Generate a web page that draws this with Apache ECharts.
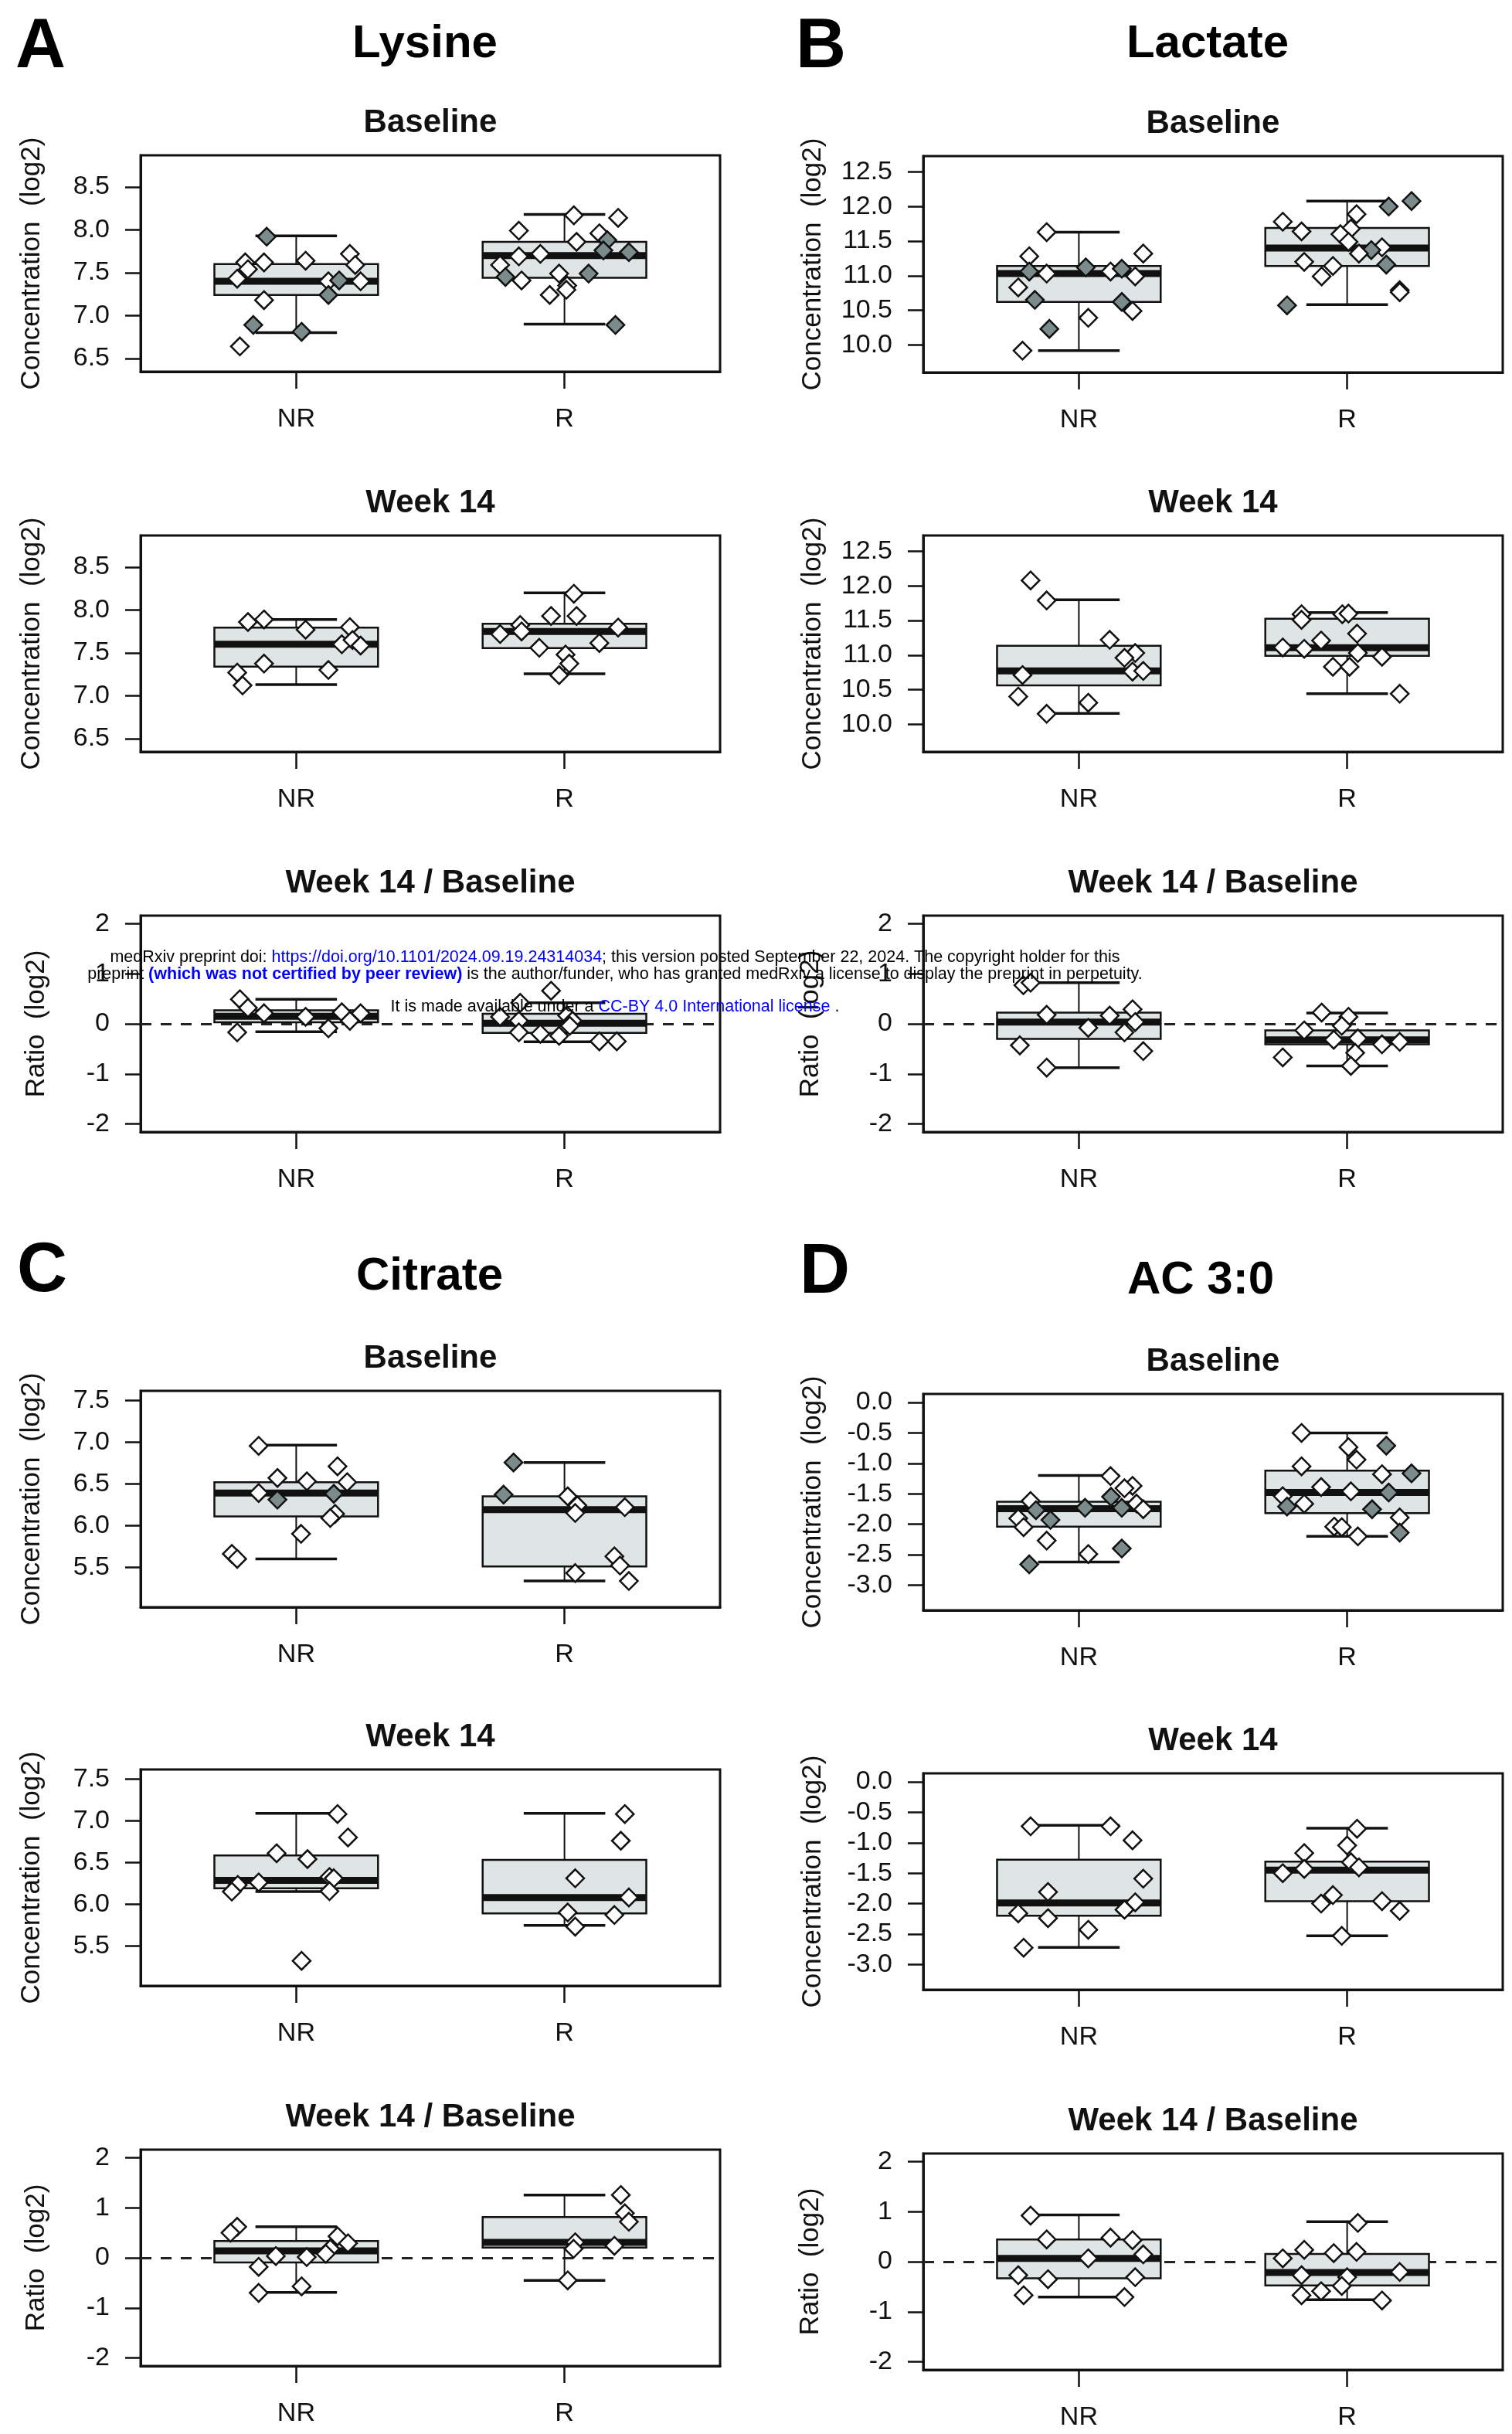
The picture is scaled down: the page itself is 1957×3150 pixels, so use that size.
<!DOCTYPE html>
<html>
<head>
<meta charset="utf-8">
<script src="https://cdn.jsdelivr.net/npm/echarts@6.0.0/dist/echarts.min.js"></script>
<style>
  html, body { margin: 0; padding: 0; background: #fff; }
  #main { width: 1957px; height: 3150px; }
</style>
</head>
<body>
<div id="main"></div>
<script>
var groups = ['NR', 'R'];

// box stats: [lower whisker, Q1, median, Q3, upper whisker]
// points: [value, jitter, dark fill]

// Lysine
var lysBaseNRBox = [6.80, 7.24, 7.40, 7.60, 7.93];
var lysBaseRBox = [6.90, 7.44, 7.70, 7.86, 8.18];
var lysBaseNR = [[7.92,-0.11,1],[6.64,-0.21,0],[6.89,-0.16,1],[6.81,0.02,1],[7.18,-0.12,0],[7.64,0.035,0],[7.62,-0.12,0],[7.62,-0.19,0],[7.54,-0.18,0],[7.43,-0.22,0],[7.72,0.20,0],[7.59,0.22,0],[7.40,0.12,0],[7.41,0.16,1],[7.24,0.12,1],[7.40,0.24,0]];
var lysBaseR = [[8.17,0.035,0],[8.14,0.20,0],[7.99,-0.17,0],[7.96,0.13,0],[7.88,0.16,1],[7.86,0.045,0],[7.72,-0.09,0],[7.69,-0.17,0],[7.76,0.145,1],[7.74,0.24,1],[7.59,-0.24,0],[7.45,-0.22,1],[7.41,-0.16,0],[7.49,-0.02,0],[7.49,0.09,1],[7.35,0.01,0],[7.30,0.007,0],[7.24,-0.055,0],[6.89,0.19,1]];
var lysW14NRBox = [7.13, 7.34, 7.60, 7.795, 7.89];
var lysW14RBox = [7.255, 7.555, 7.75, 7.84, 8.20];
var lysW14NR = [[7.86,-0.18,0],[7.89,-0.12,0],[7.77,0.035,0],[7.80,0.20,0],[7.60,0.17,0],[7.65,0.21,0],[7.585,0.24,0],[7.375,-0.12,0],[7.27,-0.22,0],[7.12,-0.20,0],[7.30,0.12,0]];
var lysW14R = [[8.19,0.035,0],[7.93,-0.05,0],[7.93,0.045,0],[7.825,-0.165,0],[7.72,-0.24,0],[7.75,-0.16,0],[7.795,0.20,0],[7.56,-0.094,0],[7.615,0.13,0],[7.48,0.004,0],[7.375,0.018,0],[7.24,-0.02,0]];
var lysRatNRBox = [-0.16, 0.03, 0.15, 0.27, 0.49];
var lysRatRBox = [-0.36, -0.18, 0.01, 0.20, 0.42];
var lysRatNR = [[0.49,-0.21,0],[0.32,-0.18,0],[0.21,-0.12,0],[-0.17,-0.22,0],[0.14,0.035,0],[-0.09,0.12,0],[0.23,0.17,0],[0.21,0.24,0],[0.06,0.20,0]];
var lysRatR = [[0.66,-0.05,0],[0.42,-0.165,0],[0.14,-0.24,0],[0.06,-0.17,0],[-0.17,-0.17,0],[-0.20,-0.09,0],[-0.24,-0.02,0],[0.165,0.01,0],[0.06,0.03,0],[-0.35,0.13,0],[-0.35,0.195,0],[-0.04,0.02,0]];

// Lactate
var lacBaseNRBox = [9.915, 10.62, 11.03, 11.14, 11.63];
var lacBaseRBox = [10.58, 11.14, 11.40, 11.69, 12.08];
var lacBaseNR = [[11.63,-0.12,0],[11.28,-0.185,0],[11.06,-0.185,1],[11.03,-0.12,0],[10.83,-0.226,0],[10.65,-0.164,1],[11.12,0.026,1],[11.06,0.118,0],[11.10,0.16,1],[11.32,0.24,0],[10.99,0.21,0],[10.62,0.16,1],[10.49,0.20,0],[10.39,0.035,0],[10.23,-0.11,1],[9.915,-0.21,0]];
var lacBaseR = [[12.08,0.24,1],[12.00,0.155,1],[11.89,0.035,0],[11.78,-0.24,0],[11.64,-0.17,0],[11.68,0.014,0],[11.60,-0.025,0],[11.49,0.005,0],[11.41,0.13,0],[11.37,0.09,1],[11.32,0.044,0],[11.20,-0.16,0],[11.16,0.146,1],[11.14,-0.053,0],[10.99,-0.095,0],[10.79,0.196,0],[10.76,0.196,0],[10.57,-0.224,1]];
var lacW14NRBox = [10.155, 10.56, 10.77, 11.135, 11.80];
var lacW14RBox = [10.44, 10.99, 11.105, 11.525, 11.615];
var lacW14NR = [[12.08,-0.18,0],[11.79,-0.12,0],[11.22,0.115,0],[11.03,0.21,0],[10.96,0.17,0],[10.76,0.20,0],[10.77,0.24,0],[10.71,-0.21,0],[10.40,-0.226,0],[10.31,0.035,0],[10.15,-0.12,0]];
var lacW14R = [[11.59,-0.17,0],[11.51,-0.17,0],[11.59,-0.018,0],[11.60,0.005,0],[11.31,0.037,0],[11.21,-0.097,0],[11.11,-0.24,0],[11.09,-0.16,0],[11.03,0.04,0],[10.975,0.13,0],[10.83,-0.053,0],[10.83,0.009,0],[10.44,0.196,0]];
var lacRatNRBox = [-0.875, -0.30, 0.035, 0.225, 0.82];
var lacRatRBox = [-0.84, -0.41, -0.32, -0.13, 0.215];
var lacRatNR = [[0.77,-0.207,0],[0.82,-0.18,0],[0.18,-0.12,0],[0.165,0.115,0],[0.29,0.20,0],[0.035,0.21,0],[-0.08,0.035,0],[-0.17,0.17,0],[-0.43,-0.22,0],[-0.545,0.24,0],[-0.875,-0.12,0]];
var lacRatR = [[0.225,-0.095,0],[0.14,0.005,0],[-0.04,-0.02,0],[-0.13,-0.16,0],[-0.32,-0.05,0],[-0.29,0.04,0],[-0.41,0.13,0],[-0.36,0.196,0],[-0.58,0.03,0],[-0.67,-0.24,0],[-0.84,0.014,0]];

// Citrate
var citBaseNRBox = [5.60, 6.11, 6.39, 6.52, 6.965];
var citBaseRBox = [5.335, 5.51, 6.19, 6.35, 6.756];
var citBaseNR = [[6.955,-0.14,0],[6.71,0.154,0],[6.57,-0.07,0],[6.53,0.04,0],[6.52,0.19,0],[6.39,-0.14,0],[6.31,-0.07,1],[6.38,0.14,1],[6.14,0.145,0],[6.09,0.127,0],[5.90,0.018,0],[5.66,-0.24,0],[5.60,-0.22,0]];
var citBaseR = [[6.756,-0.19,1],[6.37,-0.227,1],[6.35,0.012,0],[6.24,0.048,0],[6.15,0.04,0],[6.22,0.225,0],[5.63,0.186,0],[5.52,0.207,0],[5.43,0.04,0],[5.335,0.24,0]];
var citW14NRBox = [6.15, 6.19, 6.285, 6.584, 7.09];
var citW14RBox = [5.745, 5.89, 6.08, 6.53, 7.09];
var citW14NR = [[7.08,0.154,0],[6.80,0.193,0],[6.61,-0.073,0],[6.54,0.042,0],[6.325,0.124,0],[6.31,0.14,0],[6.26,-0.14,0],[6.23,-0.218,0],[6.15,-0.24,0],[6.155,0.124,0],[5.32,0.02,0]];
var citW14R = [[7.08,0.225,0],[6.76,0.21,0],[6.31,0.04,0],[6.08,0.24,0],[5.90,0.012,0],[5.87,0.186,0],[5.73,0.04,0]];
var citRatNRBox = [-0.69, -0.093, 0.14, 0.335, 0.62];
var citRatRBox = [-0.45, 0.206, 0.31, 0.815, 1.254];
var citRatNR = [[0.62,-0.22,0],[0.50,-0.245,0],[0.43,0.154,0],[0.29,0.193,0],[0.18,0.127,0],[0.08,0.11,0],[0.036,-0.076,0],[0.015,0.039,0],[-0.18,-0.14,0],[-0.57,0.02,0],[-0.70,-0.14,0]];
var citRatR = [[1.254,0.21,0],[0.89,0.225,0],[0.72,0.24,0],[0.31,0.04,0],[0.18,0.034,0],[0.24,0.186,0],[-0.45,0.012,0]];

// AC 3:0
var acBaseNRBox = [-2.62, -2.04, -1.745, -1.63, -1.20];
var acBaseRBox = [-2.20, -1.82, -1.48, -1.12, -0.50];
var acBaseNR = [[-1.21,0.118,0],[-1.37,0.20,0],[-1.41,0.17,0],[-1.55,0.12,1],[-1.62,-0.18,0],[-1.73,0.023,1],[-1.73,0.16,1],[-1.66,0.215,0],[-1.755,0.24,0],[-1.77,-0.16,1],[-1.905,-0.226,0],[-1.93,-0.106,1],[-2.05,-0.206,0],[-2.27,-0.12,0],[-2.40,0.16,1],[-2.49,0.035,0],[-2.66,-0.185,1]];
var acBaseR = [[-0.50,-0.17,0],[-0.71,0.146,1],[-0.735,0.005,0],[-0.94,0.035,0],[-1.05,-0.17,0],[-1.18,0.13,0],[-1.165,0.24,1],[-1.39,-0.097,0],[-1.46,0.014,0],[-1.48,0.155,1],[-1.54,-0.24,0],[-1.71,-0.224,1],[-1.665,-0.16,0],[-1.755,0.093,1],[-1.89,0.196,0],[-2.04,-0.048,0],[-2.05,-0.02,0],[-2.14,0.196,1],[-2.20,0.04,0]];
var acW14NRBox = [-2.72, -2.20, -1.99, -1.278, -0.715];
var acW14RBox = [-2.53, -1.96, -1.45, -1.31, -0.76];
var acW14NR = [[-0.73,-0.18,0],[-0.73,0.118,0],[-0.96,0.20,0],[-1.59,0.24,0],[-1.81,-0.115,0],[-1.98,0.21,0],[-2.10,0.17,0],[-2.16,-0.226,0],[-2.24,-0.115,0],[-2.43,0.035,0],[-2.725,-0.206,0]];
var acW14R = [[-0.77,0.037,0],[-1.045,0,0],[-1.17,-0.16,0],[-1.32,0.014,0],[-1.405,0.044,0],[-1.43,-0.16,0],[-1.50,-0.24,0],[-1.86,-0.053,0],[-2.00,-0.097,0],[-1.96,0.13,0],[-2.12,0.196,0],[-2.53,-0.02,0]];
var acRatNRBox = [-0.707, -0.33, 0.067, 0.444, 0.934];
var acRatRBox = [-0.76, -0.475, -0.217, 0.155, 0.80];
var acRatNR = [[0.92,-0.18,0],[0.444,-0.12,0],[0.48,0.118,0],[0.43,0.20,0],[0.145,0.24,0],[0.067,0.035,0],[-0.27,-0.226,0],[-0.35,-0.115,0],[-0.31,0.21,0],[-0.67,-0.206,0],[-0.707,0.17,0]];
var acRatR = [[0.774,0.04,0],[0.237,-0.16,0],[0.17,-0.05,0],[0.196,0.035,0],[0.067,-0.24,0],[-0.27,-0.17,0],[-0.31,0,0],[-0.206,0.196,0],[-0.485,-0.02,0],[-0.59,-0.097,0],[-0.67,-0.17,0],[-0.774,0.13,0]];

// axis ranges and tick labels
var lysRange = [6.345, 8.87], lysTicks = [6.5, 7.0, 7.5, 8.0, 8.5];
var lacRange = [9.60, 12.73], lacTicks = [10.0, 10.5, 11.0, 11.5, 12.0, 12.5];
var citRange = [5.02, 7.615], citTicks = [5.5, 6.0, 6.5, 7.0, 7.5];
var acRange = [-3.415, 0.14], acTicks = [-3.0, -2.5, -2.0, -1.5, -1.0, -0.5, 0.0];
var ratRange = [-2.16, 2.16], ratTicks = [-2, -1, 0, 1, 2];

var metabolites = ['Lysine', 'Lactate', 'Citrate', 'AC 3:0'];
var letters = ['A', 'B', 'C', 'D'];
var subTitles = ['Baseline', 'Week 14', 'Week 14 / Baseline'];

// three panels per metabolite, in the order of metabolites
var panels = [
  [lysBaseNRBox, lysBaseRBox, lysBaseNR, lysBaseR, lysRange, lysTicks],
  [lysW14NRBox, lysW14RBox, lysW14NR, lysW14R, lysRange, lysTicks],
  [lysRatNRBox, lysRatRBox, lysRatNR, lysRatR, ratRange, ratTicks],
  [lacBaseNRBox, lacBaseRBox, lacBaseNR, lacBaseR, lacRange, lacTicks],
  [lacW14NRBox, lacW14RBox, lacW14NR, lacW14R, lacRange, lacTicks],
  [lacRatNRBox, lacRatRBox, lacRatNR, lacRatR, ratRange, ratTicks],
  [citBaseNRBox, citBaseRBox, citBaseNR, citBaseR, citRange, citTicks],
  [citW14NRBox, citW14RBox, citW14NR, citW14R, citRange, citTicks],
  [citRatNRBox, citRatRBox, citRatNR, citRatR, ratRange, ratTicks],
  [acBaseNRBox, acBaseRBox, acBaseNR, acBaseR, acRange, acTicks],
  [acW14NRBox, acW14RBox, acW14NR, acW14R, acRange, acTicks],
  [acRatNRBox, acRatRBox, acRatNR, acRatR, ratRange, ratTicks]
];

// layout
var FONT = 'Liberation Sans, Arial, Helvetica, sans-serif';
var colLeft = [182, 1195];
var gridW = 750, gridH = 280;
var rowTops = [[201, 693, 1185, 1800, 2290, 2782], [202, 693, 1185, 1804, 2295, 2787]];
var BOX_HW = 0.305, CAP_HW = 0.152;

function renderBox(params, api) {
  var x = api.value(0);
  var lo = api.value(1), q1 = api.value(2), md = api.value(3), q3 = api.value(4), hi = api.value(5);
  var p = function (a, b) { return api.coord([a, b]); };
  var tl = p(x - BOX_HW, q3), br = p(x + BOX_HW, q1);
  var line = function (a, b, w) {
    return { type: 'line', shape: { x1: a[0], y1: a[1], x2: b[0], y2: b[1] },
      style: { stroke: '#111', lineWidth: w } };
  };
  return {
    type: 'group',
    children: [
      line(p(x, q3), p(x, hi), 2),
      line(p(x, q1), p(x, lo), 2),
      line(p(x - CAP_HW, hi), p(x + CAP_HW, hi), 3.5),
      line(p(x - CAP_HW, lo), p(x + CAP_HW, lo), 3.5),
      { type: 'rect', shape: { x: tl[0], y: tl[1], width: br[0] - tl[0], height: br[1] - tl[1] },
        style: { fill: '#dfe5e5', stroke: '#111', lineWidth: 2.5 } },
      line(p(x - BOX_HW, md), p(x + BOX_HW, md), 9)
    ]
  };
}

var grid = [], xAxis = [], yAxis = [], series = [], graphic = [];

panels.forEach(function (pn, i) {
  var m = Math.floor(i / 3);
  var sub = i % 3;
  var col = m % 2;
  var row = (m >= 2 ? 3 : 0) + sub;
  var isRatio = sub === 2;
  var top = rowTops[col][row];
  var left = colLeft[col];
  grid.push({ left: left, top: top, width: gridW, height: gridH, show: true,
    borderColor: '#111', borderWidth: 3, backgroundColor: 'transparent' });
  xAxis.push({
    gridIndex: i, type: 'value', min: 0.42, max: 2.58,
    splitLine: { show: false },
    axisLine: { show: true, onZero: false, lineStyle: { color: '#111', width: 3 } },
    axisTick: { show: true, length: 22, customValues: [1, 2], lineStyle: { color: '#111', width: 2.5 } },
    axisLabel: { customValues: [1, 2], margin: 45, fontSize: 34, color: '#111', fontFamily: FONT,
      formatter: function (v) { return groups[Math.round(v) - 1]; } }
  });
  yAxis.push({
    gridIndex: i, type: 'value', min: pn[4][0], max: pn[4][1],
    splitLine: { show: false },
    axisLine: { show: true, onZero: false, lineStyle: { color: '#111', width: 3 } },
    axisTick: { show: true, length: 20, customValues: pn[5], lineStyle: { color: '#111', width: 2.5 } },
    axisLabel: { customValues: pn[5], margin: 40, fontSize: 34, color: '#111', fontFamily: FONT,
      formatter: function (v) { return isRatio ? String(v) : v.toFixed(1); } }
  });

  var boxSeries = {
    type: 'custom', xAxisIndex: i, yAxisIndex: i, z: 2, silent: true,
    renderItem: renderBox,
    encode: { x: 0, y: [1, 2, 3, 4, 5] },
    data: [[1].concat(pn[0]), [2].concat(pn[1])]
  };
  if (isRatio) {
    boxSeries.markLine = {
      silent: true, z: 1, symbol: 'none', label: { show: false },
      lineStyle: { color: '#222', width: 3, type: [14, 12] },
      data: [{ yAxis: 0 }]
    };
  }
  series.push(boxSeries);

  var pts = [];
  [pn[2], pn[3]].forEach(function (arr, g) {
    arr.forEach(function (d) { pts.push([g + 1 + d[1], d[0], d[2]]); });
  });
  series.push({
    type: 'scatter', xAxisIndex: i, yAxisIndex: i, z: 3, silent: true,
    symbol: 'diamond', symbolSize: 23,
    itemStyle: {
      color: function (p) { return p.data[2] ? '#7b8b8b' : '#ffffff'; },
      borderColor: '#111', borderWidth: 2.5, opacity: 1
    },
    data: pts
  });

  // subplot title
  graphic.push({ type: 'text', x: left + gridW / 2, y: top - 42,
    style: { text: subTitles[sub], font: 'bold 42px ' + FONT, fill: '#111', align: 'center', verticalAlign: 'middle' } });
  // y axis name
  var nameX = col === 0 ? (isRatio ? 47 : 41) : (isRatio ? 1049 : 1052);
  graphic.push({ type: 'text', x: nameX, y: top + gridH / 2, rotation: Math.PI / 2,
    style: { text: isRatio ? 'Ratio  (log2)' : 'Concentration  (log2)', font: '35px ' + FONT,
      fill: '#111', align: 'center', verticalAlign: 'middle' } });
});

// panel letters and metabolite titles
var letterPos = [[20, 62], [1030, 62], [22, 1646], [1035, 1648]];
var titlePos = [[550, 57], [1563, 57], [556, 1652], [1554, 1657]];
letters.forEach(function (t, k) {
  graphic.push({ type: 'text', x: letterPos[k][0], y: letterPos[k][1],
    style: { text: t, font: 'bold 90px ' + FONT, fill: '#000', align: 'left', verticalAlign: 'middle' } });
  graphic.push({ type: 'text', x: titlePos[k][0], y: titlePos[k][1],
    style: { text: metabolites[k], font: 'bold 60px ' + FONT, fill: '#000', align: 'center', verticalAlign: 'middle' } });
});

// medRxiv watermark
var WM = '21.5px ' + FONT;
var wmRich = {
  k: { fill: '#000', color: '#000', font: WM },
  u: { fill: '#0000ff', color: '#0000ff', font: WM },
  b: { fill: '#0000ff', color: '#0000ff', font: 'bold ' + WM }
};
graphic.push({ type: 'text', x: 796, y: 1239, z: 100,
  style: { text: '{k|medRxiv preprint doi: }{u|https://doi.org/10.1101/2024.09.19.24314034}{k|; this version posted September 22, 2024. The copyright holder for this}',
    rich: wmRich, align: 'center', verticalAlign: 'middle', font: WM } });
graphic.push({ type: 'text', x: 796, y: 1261, z: 100,
  style: { text: '{k|preprint }{b|(which was not certified by peer review)}{k| is the author/funder, who has granted medRxiv a license to display the preprint in perpetuity.}',
    rich: wmRich, align: 'center', verticalAlign: 'middle', font: WM } });
graphic.push({ type: 'text', x: 796, y: 1303, z: 100,
  style: { text: '{k|It is made available under a }{u|CC-BY 4.0 International license}{k| .}',
    rich: wmRich, align: 'center', verticalAlign: 'middle', font: WM } });

var chart = echarts.init(document.getElementById('main'), null, { renderer: 'canvas' });
chart.setOption({
  backgroundColor: '#fff',
  animation: false,
  textStyle: { fontFamily: FONT },
  grid: grid,
  xAxis: xAxis,
  yAxis: yAxis,
  series: series,
  graphic: graphic
});
</script>
</body>
</html>
